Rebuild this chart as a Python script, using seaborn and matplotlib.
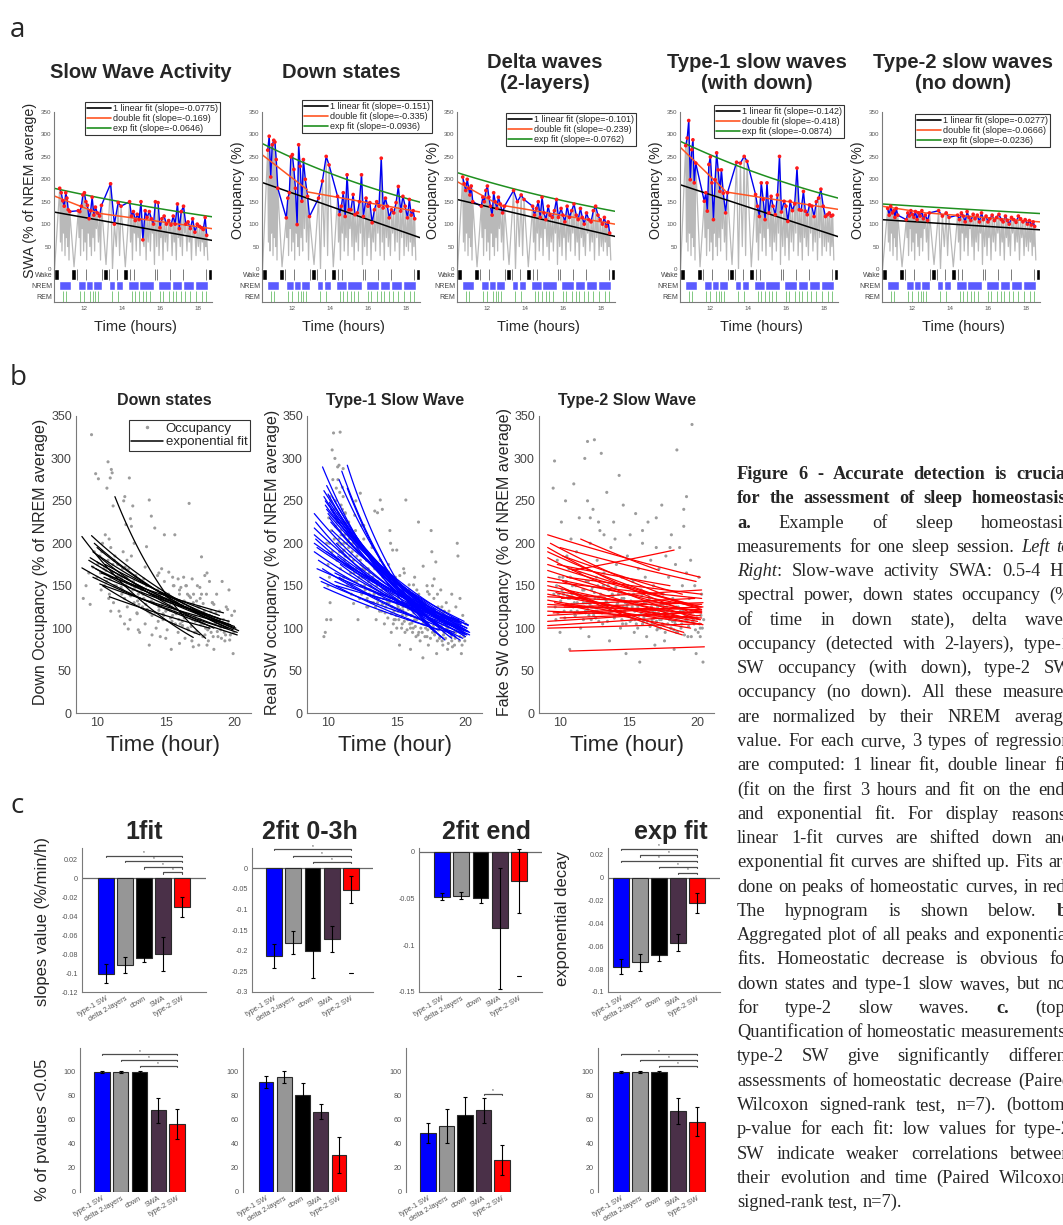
import re
import numpy as np
import pandas as pd
import matplotlib
matplotlib.use("Agg")
import matplotlib.pyplot as plt
from matplotlib.lines import Line2D
import seaborn as sns

sns.set_theme(style="white")
plt.rcParams["font.family"] = ["Liberation Sans", "DejaVu Sans"]
plt.rcParams["axes.unicode_minus"] = False

# ---------------- panel a: one recording session ----------------
session_hours = [10.42, 18.74]
peak_t = [10.72, 10.80, 10.88, 10.96, 11.04, 11.10, 11.17, 11.25,
          11.70, 11.78, 11.86, 11.94, 12.02, 12.10, 12.18, 12.27, 12.35, 12.43, 12.52, 12.60, 12.70, 12.82, 12.92,
          13.40, 13.60, 13.80, 13.95,
          14.40, 14.50, 14.60, 14.70, 14.80, 14.90, 15.00, 15.10, 15.22, 15.32, 15.44, 15.55, 15.66,
          15.76, 15.90, 16.00, 16.10, 16.22, 16.34, 16.46, 16.58, 16.70, 16.80, 16.92, 17.02, 17.12, 17.24,
          17.36, 17.48, 17.60, 17.72, 17.84, 17.96, 18.08, 18.18, 18.28, 18.38, 18.46]
swa_peaks = [180, 170, 152, 140, 170, 158, 132, 128,
             130, 128, 140, 165, 170, 150, 142, 112, 130, 160, 120, 138, 125, 118, 142,
             190, 100, 148, 140,
             150, 118, 128, 108, 122, 110, 150, 65, 130, 115, 128, 112, 100,
             150, 148, 92, 112, 118, 100, 108, 98, 118, 100, 145, 90, 128, 140, 100, 105, 90, 112, 82, 100,
             95, 92, 88, 115, 75]
down_peaks = [265, 296, 205, 277, 287, 283, 244, 180,
              114, 158, 170, 250, 255, 222, 180, 99, 277, 229, 151, 244, 200, 162, 117,
              158, 196, 251, 232,
              162, 121, 140, 170, 117, 210, 132, 132, 166, 121, 125, 150, 210,
              117, 158, 140, 148, 103, 132, 150, 140, 247, 136, 158, 140, 114, 132, 125, 148, 184, 129, 162,
              140, 114, 155, 120, 130, 112]
delta_peaks = [205, 190, 175, 200, 180, 165, 185, 150,
               140, 160, 150, 175, 185, 160, 140, 120, 170, 150, 135, 160, 145, 125, 140,
               175, 150, 165, 155,
               140, 120, 135, 150, 115, 160, 125, 110, 140, 120, 115, 130, 155,
               115, 135, 120, 105, 140, 115, 130, 145, 120, 110, 135, 115, 100, 125, 110, 105, 130, 140, 120,
               110, 100, 115, 95, 105, 80]
type1_peaks = [275, 292, 331, 199, 266, 288, 192, 236,
               151, 170, 129, 233, 250, 192, 110, 199, 259, 221, 173, 221, 169, 125, 170,
               238, 236, 251, 240,
               166, 140, 117, 192, 155, 110, 192, 125, 162, 140, 121, 165, 251,
               127, 151, 140, 106, 151, 130, 145, 225, 132, 131, 173, 129, 121, 143, 140, 117, 150, 158, 178,
               140, 117, 121, 125, 118, 120]
type2_peaks = [135, 120, 140, 125, 130, 115, 135, 120,
               110, 125, 118, 130, 122, 115, 128, 110, 125, 118, 130, 112, 120, 108, 125,
               130, 118, 125, 115,
               120, 110, 125, 118, 105, 128, 115, 108, 122, 112, 120, 105, 125,
               110, 118, 105, 112, 120, 108, 115, 122, 110, 105, 118, 108, 100, 115, 110, 104, 118, 112, 105,
               110, 100, 108, 98, 105, 95]
trough_v = [60, 40, 80, 30, 70, 50, 20, 5,
            70, 30, 90, 40, 60, 20, 80, 50, 30, 70, 40, 90, 60, 20, 10,
            0, 50, 30, 5,
            60, 20, 80, 40, 70, 30, 90, 50, 20, 60, 40, 80, 10,
            50, 30, 70, 20, 60, 40, 80, 30, 60, 20, 70, 50, 30, 80, 40, 60, 20, 70, 30, 50, 40, 60, 30, 50, 20]

# hypnogram of the session (start hour, duration in hours)
wake_blocks = [(10.42, 0.26), (11.30, 0.30), (13.00, 0.27), (14.03, 0.30), (18.53, 0.21)]
wake_marks = [11.62, 12.10, 12.95, 13.30, 13.75, 14.42, 14.62, 15.72, 15.84, 16.55, 17.20, 18.45]
nrem_blocks = [(10.68, 0.62), (11.67, 0.42), (12.11, 0.36), (12.49, 0.47), (13.32, 0.33), (13.67, 0.36),
               (14.33, 0.55), (14.90, 0.78), (15.90, 0.70), (16.62, 0.56), (17.20, 0.60), (17.82, 0.71)]
rem_times = [10.90, 11.05, 11.80, 12.00, 12.30, 12.45, 12.60, 12.75, 13.50, 13.80, 14.55, 14.70, 14.90,
             15.10, 15.25, 15.45, 16.00, 16.15, 16.50, 16.70, 16.85, 17.10, 17.30, 17.60, 17.90, 18.20, 18.45]

a_titles = ["Slow Wave Activity", "Down states", "Delta waves\n(2-layers)",
            "Type-1 slow waves\n(with down)", "Type-2 slow waves\n(no down)"]
a_ylabels = ["SWA (% of NREM average)", "Occupancy (%)", "Occupancy (%)", "Occupancy (%)", "Occupancy (%)"]
lin_slope = [-0.0775, -0.151, -0.101, -0.142, -0.0277]
dbl_slope = [-0.169, -0.335, -0.239, -0.418, -0.0666]
exp_slope = [-0.0646, -0.0936, -0.0762, -0.0874, -0.0236]
lin_start = [127, 193, 155, 188, 110]
dbl_start = [163, 255, 195, 272, 140]
dbl_tail = [(124, 90), (172, 127), (142, 100), (172, 133), (125, 105)]
exp_start = [180, 280, 215, 285, 145]
SLOPE_PER_H = 98.0      # quoted linear slope units -> % per hour
EXP_PER_H = 0.81        # quoted exponential rate units -> per hour
FIRST_PART_H = 2.38     # span of the first segment of the double fit

# ---------------- panel b: peaks pooled over sessions ----------------
down_pool = [(9.0, 135), (9.2, 150), (9.4, 165), (9.5, 128), (9.6, 328), (9.7, 172), (9.8, 190), (9.9, 282),
             (10.0, 160), (10.1, 276), (10.2, 185), (10.3, 145), (10.4, 200), (10.5, 170), (10.6, 210),
             (10.7, 155), (10.8, 180), (10.9, 140), (11.0, 195), (11.1, 165), (11.2, 130), (11.3, 185),
             (11.4, 150), (11.5, 175), (11.6, 120), (11.7, 160), (11.8, 140), (11.9, 190), (12.0, 135),
             (12.1, 150), (12.2, 125), (12.3, 170), (12.4, 110), (12.5, 220), (12.6, 145), (12.7, 130),
             (12.8, 160), (12.9, 118), (13.0, 140), (13.1, 95), (13.2, 155), (13.3, 125), (13.4, 135),
             (13.5, 105), (13.6, 150), (13.7, 120), (13.8, 80), (13.9, 140), (14.0, 115), (14.1, 130),
             (14.2, 218), (14.3, 100), (14.4, 145), (14.5, 125), (14.6, 90), (14.7, 135), (14.8, 110),
             (14.9, 155), (15.0, 120), (15.1, 98), (15.2, 140), (15.3, 128), (15.4, 75), (15.5, 115),
             (15.6, 150), (15.7, 105), (15.8, 130), (15.9, 95), (16.0, 145), (16.1, 118), (16.2, 108),
             (16.3, 160), (16.4, 88), (16.5, 125), (16.6, 100), (16.7, 138), (16.8, 112), (16.9, 85),
             (17.0, 130), (17.1, 95), (17.2, 120), (17.3, 150), (17.4, 80), (17.5, 110), (17.6, 140),
             (17.7, 90), (17.8, 120), (17.9, 100), (18.0, 165), (18.1, 85), (18.2, 115), (18.3, 95),
             (18.4, 130), (18.5, 75), (18.6, 105), (18.7, 140), (18.8, 90), (18.9, 120), (19.0, 98),
             (19.1, 155), (19.2, 110), (19.3, 85), (19.4, 125), (19.5, 100), (19.6, 145), (19.7, 92),
             (19.8, 115), (19.9, 70), (20.0, 120), (10.25, 165), (10.55, 150), (10.85, 135), (11.15, 175),
             (11.45, 160), (11.75, 148), (12.05, 172), (12.35, 140), (12.65, 155), (12.95, 132), (13.25, 145),
             (13.55, 128), (13.85, 118), (14.15, 138), (14.45, 108), (14.75, 128), (15.05, 135), (15.35, 112),
             (15.65, 122), (15.95, 110), (16.25, 128), (16.55, 115), (16.85, 102), (17.15, 108), (17.45, 125),
             (17.75, 105), (18.05, 98), (18.35, 112), (18.65, 118), (18.95, 102), (19.25, 95), (19.55, 108),
             (19.85, 100), (10.05, 175), (10.35, 190), (10.65, 168), (10.95, 158), (11.25, 150), (11.55, 162),
             (11.85, 145), (12.15, 160), (12.45, 138), (12.75, 148), (13.05, 128), (13.35, 140), (13.65, 122),
             (13.95, 132), (14.25, 118), (14.55, 125), (14.85, 115), (15.15, 122), (15.45, 108), (15.75, 118),
             (16.05, 105), (16.35, 112), (16.65, 98), (16.95, 110), (17.25, 96), (17.55, 104), (17.85, 92),
             (18.15, 100), (18.45, 90), (18.75, 96), (19.05, 88), (19.35, 92), (19.65, 86), (19.95, 95),
             (11.0, 120), (12.0, 105), (13.0, 98), (14.0, 92), (15.0, 88), (16.0, 82), (17.0, 78), (18.0, 80),
             (12.5, 185), (13.5, 172), (14.5, 165), (15.5, 160), (16.5, 150), (17.5, 135), (18.5, 128),
             (19.5, 122)]
type1_pool = [(9.7, 90), (9.9, 110), (10.0, 150), (10.1, 200), (10.2, 250), (10.3, 310), (10.35, 275),
              (10.4, 330), (10.45, 240), (10.5, 300), (10.55, 220), (10.6, 265), (10.65, 180), (10.7, 290),
              (10.75, 235), (10.8, 205), (10.85, 260), (10.9, 170), (10.95, 245), (11.0, 225), (11.05, 190),
              (11.1, 255), (11.15, 160), (11.2, 210), (11.25, 235), (11.3, 175), (11.35, 200), (11.4, 150),
              (11.5, 225), (11.6, 185), (11.7, 140), (11.8, 200), (11.9, 165), (12.0, 215), (12.1, 155),
              (12.2, 190), (12.3, 135), (12.4, 175), (12.5, 160), (12.6, 205), (12.7, 145), (12.8, 180),
              (12.9, 125), (13.0, 165), (13.1, 150), (13.2, 195), (13.3, 130), (13.4, 170), (13.5, 110),
              (13.6, 155), (13.7, 140), (13.8, 180), (13.9, 120), (14.0, 160), (14.1, 105), (14.2, 145),
              (14.3, 130), (14.4, 175), (14.5, 215), (14.55, 200), (14.6, 95), (14.7, 140), (14.8, 120),
              (14.9, 160), (15.0, 100), (15.1, 135), (15.2, 80), (15.3, 150), (15.4, 115), (15.5, 170),
              (15.6, 95), (15.7, 130), (15.8, 110), (15.9, 145), (16.0, 75), (16.1, 125), (16.2, 100),
              (16.3, 160), (16.4, 90), (16.5, 120), (16.6, 140), (16.7, 85), (16.8, 115), (16.9, 65),
              (17.0, 130), (17.1, 100), (17.2, 150), (17.3, 80), (17.4, 120), (17.5, 215), (17.55, 190),
              (17.6, 95), (17.7, 135), (17.8, 110), (17.9, 70), (18.0, 125), (18.1, 100), (18.2, 145),
              (18.3, 85), (18.4, 115), (18.5, 105), (18.6, 130), (18.7, 75), (18.8, 120), (18.9, 95),
              (19.0, 140), (19.1, 110), (19.2, 80), (19.3, 125), (19.4, 200), (19.45, 185), (19.5, 100),
              (19.6, 135), (19.7, 70), (19.8, 115), (19.9, 90), (20.0, 105), (10.3, 190), (10.6, 230),
              (10.9, 215), (11.2, 180), (11.5, 195), (11.8, 170), (12.1, 185), (12.4, 150), (12.7, 170),
              (13.0, 140), (13.3, 155), (13.6, 130), (13.9, 145), (14.2, 125), (14.5, 135), (14.8, 110),
              (15.1, 120), (15.4, 105), (15.7, 115), (16.0, 100), (16.3, 110), (16.6, 95), (16.9, 105),
              (17.2, 90), (17.5, 100), (17.8, 95), (18.1, 88), (18.4, 92), (18.7, 100), (19.0, 85),
              (19.3, 95), (19.6, 90), (19.9, 98), (9.9, 200), (10.0, 175), (10.1, 160), (10.15, 130),
              (10.2, 110), (9.8, 95),
              (10.05, 230), (10.15, 255), (10.25, 215), (10.45, 205), (10.55, 250), (10.65, 225), (10.75, 200),
              (10.85, 190), (10.95, 210), (11.05, 240), (11.15, 200), (11.25, 185), (11.35, 225), (11.45, 175),
              (11.55, 205), (11.65, 165), (11.75, 190), (11.85, 180), (11.95, 155), (12.05, 170), (12.15, 195),
              (12.25, 160), (12.35, 180), (12.45, 140), (12.55, 170), (12.65, 150), (12.75, 160), (12.85, 135),
              (12.95, 155), (13.05, 145), (13.15, 130), (13.25, 160), (13.35, 140), (13.45, 125), (13.55, 150),
              (13.65, 135), (13.75, 120), (13.85, 140), (13.95, 128), (14.05, 135), (14.15, 118), (14.25, 140),
              (14.35, 112), (14.45, 130), (14.65, 125), (14.75, 105), (14.85, 135), (14.95, 115), (15.05, 128),
              (15.15, 110), (15.25, 122), (15.35, 100), (15.45, 125), (15.55, 108), (15.65, 118), (15.75, 98),
              (15.85, 122), (15.95, 105), (16.05, 115), (16.15, 95), (16.25, 118), (16.35, 102), (16.45, 110),
              (16.55, 92), (16.65, 112), (16.75, 100), (16.85, 95), (16.95, 108), (17.05, 90), (17.15, 105),
              (17.25, 98), (17.35, 110), (17.45, 88), (17.65, 102), (17.75, 92), (17.85, 105), (17.95, 85),
              (18.05, 98), (18.15, 90), (18.25, 102), (18.35, 80), (18.45, 95), (18.55, 88), (18.65, 100),
              (18.75, 82), (18.85, 96), (18.95, 90), (19.05, 78), (19.15, 95), (19.25, 88), (19.35, 100),
              (19.55, 85), (19.65, 95), (19.75, 80), (19.85, 92), (19.95, 85)]
type2_pool = [(9.5, 265), (9.6, 297), (9.7, 110), (9.8, 180), (9.9, 140), (10.0, 95), (10.1, 225),
              (10.2, 160), (10.3, 120), (10.4, 250), (10.5, 185), (10.6, 135), (10.7, 75), (10.8, 205),
              (10.9, 150), (11.0, 270), (11.1, 115), (11.2, 190), (11.3, 140), (11.4, 230), (11.5, 100),
              (11.6, 170), (11.7, 130), (11.8, 300), (11.9, 155), (12.0, 320), (12.1, 90), (12.2, 200),
              (12.3, 145), (12.4, 240), (12.5, 322), (12.6, 120), (12.7, 180), (12.8, 135), (12.9, 215),
              (13.0, 306), (13.1, 105), (13.2, 165), (13.3, 125), (13.4, 260), (13.5, 150), (13.6, 85),
              (13.7, 195), (13.8, 140), (13.9, 225), (14.0, 115), (14.1, 175), (14.2, 130), (14.3, 280),
              (14.4, 100), (14.5, 160), (14.6, 245), (14.7, 120), (14.8, 70), (14.9, 185), (15.0, 140),
              (15.1, 210), (15.2, 110), (15.3, 155), (15.4, 95), (15.5, 235), (15.6, 130), (15.7, 170),
              (15.8, 60), (15.9, 145), (16.0, 200), (16.1, 115), (16.2, 160), (16.3, 90), (16.4, 225),
              (16.5, 135), (16.6, 180), (16.7, 105), (16.8, 150), (16.9, 80), (17.0, 195), (17.1, 125),
              (17.2, 170), (17.3, 100), (17.4, 245), (17.5, 140), (17.6, 85), (17.7, 185), (17.8, 120),
              (17.9, 160), (18.0, 110), (18.1, 210), (18.2, 135), (18.3, 75), (18.4, 175), (18.5, 310),
              (18.6, 125), (18.7, 195), (18.8, 100), (18.9, 150), (19.0, 220), (19.1, 115), (19.2, 165),
              (19.3, 90), (19.4, 135), (19.5, 180), (19.6, 340), (19.7, 110), (19.8, 150), (19.9, 70),
              (20.0, 125), (20.1, 160), (20.2, 100), (20.3, 140), (20.4, 60), (10.25, 140), (10.75, 160),
              (11.25, 130), (11.75, 145), (12.25, 125), (12.75, 150), (13.25, 135), (13.75, 120),
              (14.25, 140), (14.75, 130), (15.25, 125), (15.75, 115), (16.25, 130), (16.75, 120),
              (17.25, 110), (17.75, 125), (18.25, 115), (18.75, 120), (19.25, 110), (19.75, 105),
              (20.25, 115), (10.5, 128), (11.5, 138), (12.5, 142), (13.5, 128), (14.5, 135), (15.5, 122),
              (16.5, 118), (17.5, 128), (18.5, 112), (19.5, 118),
              (9.55, 140), (9.65, 125), (9.75, 150), (9.85, 118), (9.95, 160), (10.05, 132), (10.15, 145),
              (10.35, 112), (10.45, 155), (10.55, 138), (10.65, 170), (10.85, 128), (10.95, 142), (11.05, 118),
              (11.15, 150), (11.35, 135), (11.45, 165), (11.55, 125), (11.65, 145), (11.85, 120), (11.95, 138),
              (12.05, 155), (12.15, 130), (12.35, 148), (12.45, 115), (12.55, 135), (12.65, 160), (12.85, 125),
              (12.95, 140), (13.05, 118), (13.15, 150), (13.35, 132), (13.45, 108), (13.55, 145), (13.65, 122),
              (13.85, 138), (13.95, 112), (14.05, 148), (14.15, 128), (14.35, 118), (14.45, 142), (14.55, 105),
              (14.65, 135), (14.85, 125), (14.95, 150), (15.05, 115), (15.15, 132), (15.35, 140), (15.45, 110),
              (15.55, 128), (15.65, 100), (15.85, 122), (15.95, 138), (16.05, 108), (16.15, 130), (16.35, 115),
              (16.45, 140), (16.55, 102), (16.65, 125), (16.85, 112), (16.95, 132), (17.05, 98), (17.15, 118),
              (17.35, 128), (17.45, 105), (17.55, 120), (17.65, 95), (17.85, 115), (17.95, 130), (18.05, 100),
              (18.15, 118), (18.35, 108), (18.45, 125), (18.55, 95), (18.65, 112), (18.85, 105), (18.95, 120),
              (19.05, 92), (19.15, 110), (19.35, 102), (19.45, 118), (19.55, 90), (19.65, 108), (19.85, 98),
              (19.95, 112), (20.05, 95), (20.15, 105), (20.35, 100), (20.45, 110), (12.0, 250), (12.2, 230),
              (12.8, 225), (13.2, 210), (14.0, 205), (16.0, 215), (17.0, 230), (18.0, 195), (19.0, 240),
              (19.2, 255), (20.2, 90)]

# exponential fits per session: (start hour, start value, end hour, end value)
down_fits = [(8.9, 208, 17.0, 89), (8.9, 171, 20.2, 92), (9.6, 209, 20.3, 97), (9.5, 183, 19.7, 104),
             (9.6, 173, 20.2, 95), (9.8, 200, 19.5, 100), (10.0, 195, 19.9, 98), (10.2, 152, 19.7, 104),
             (10.9, 137, 18.2, 100), (11.3, 255, 17.9, 88), (9.7, 190, 19.0, 110), (10.0, 178, 20.0, 102),
             (10.3, 165, 19.2, 118), (9.9, 170, 18.8, 112), (10.5, 160, 19.6, 108), (10.1, 185, 18.5, 100),
             (9.7, 160, 19.3, 100), (10.4, 150, 17.5, 92), (9.4, 180, 20.1, 100), (10.6, 175, 18.9, 115)]
type1_fits = [(9.0, 235, 20.3, 92), (9.0, 218, 20.2, 96), (9.0, 210, 20.1, 100), (9.0, 200, 20.2, 104),
              (9.0, 190, 20.0, 98), (9.1, 225, 19.8, 88), (9.1, 205, 19.9, 93), (9.2, 195, 19.6, 107),
              (9.2, 170, 19.5, 110), (9.3, 180, 20.3, 95), (9.6, 290, 18.4, 88), (9.7, 262, 19.9, 95),
              (9.7, 255, 20.0, 90), (9.8, 250, 19.8, 100), (9.8, 245, 20.1, 97), (9.9, 268, 19.6, 86),
              (9.9, 240, 20.2, 103), (10.0, 258, 19.0, 92), (10.0, 235, 19.7, 105), (10.1, 248, 20.0, 93),
              (10.1, 230, 19.5, 98), (10.2, 240, 18.8, 95), (10.2, 225, 20.1, 100), (10.3, 255, 19.3, 90),
              (10.3, 215, 19.9, 108), (11.4, 292, 18.2, 90), (11.4, 265, 17.8, 95), (11.0, 285, 18.5, 86),
              (10.8, 275, 19.0, 88), (10.6, 200, 19.7, 100), (10.7, 185, 20.0, 97), (10.5, 165, 19.6, 106),
              (10.5, 155, 18.9, 110), (10.8, 160, 19.2, 95), (10.6, 150, 17.6, 120), (10.9, 175, 20.1, 92),
              (11.0, 210, 19.8, 98), (11.1, 225, 20.2, 96), (10.6, 240, 19.0, 92), (10.7, 230, 19.4, 100),
              (9.5, 155, 16.5, 112), (9.6, 170, 17.0, 108), (9.7, 148, 18.8, 95), (9.4, 160, 18.0, 98),
              (9.9, 190, 17.8, 122)]
type2_fits = [(9.1, 210, 20.2, 160), (9.1, 195, 19.3, 120), (9.1, 190, 20.3, 122), (9.1, 183, 20.2, 110),
              (9.1, 175, 19.5, 128), (9.1, 168, 20.3, 118), (9.1, 160, 20.2, 125), (9.1, 155, 20.3, 135),
              (9.1, 150, 19.8, 115), (9.1, 145, 20.3, 120), (9.1, 140, 20.2, 110), (9.1, 137, 20.3, 128),
              (9.1, 133, 20.1, 105), (9.1, 128, 20.3, 118), (9.1, 125, 20.2, 122), (9.1, 120, 20.3, 112),
              (9.1, 115, 20.0, 125), (9.1, 108, 20.3, 120), (9.1, 103, 20.2, 115), (9.1, 100, 20.3, 105),
              (10.7, 73, 20.5, 78), (10.9, 168, 18.3, 192), (11.5, 205, 17.2, 168), (10.0, 195, 19.9, 155),
              (10.2, 185, 18.9, 140), (9.8, 175, 18.0, 150), (10.5, 160, 20.3, 140), (9.9, 150, 19.0, 95),
              (10.4, 145, 18.9, 92), (10.1, 135, 20.3, 145), (9.6, 130, 19.5, 100), (10.3, 125, 20.4, 130),
              (9.5, 118, 20.4, 125), (10.0, 112, 19.7, 118), (10.6, 138, 20.0, 108), (9.3, 200, 17.5, 140),
              (10.8, 170, 20.3, 125), (10.2, 155, 19.2, 112), (9.7, 142, 20.4, 104), (10.4, 128, 19.8, 135)]

# ---------------- panel c: group statistics (n=7) ----------------
bar_labels = ["type-1 SW", "delta 2-layers", "down", "SWA", "type-2 SW"]
bar_colors = ["#0000ff", "#969696", "#000000", "#4a3048", "#ff0000"]
slope_1fit = [-0.101, -0.092, -0.084, -0.080, -0.031]
err_1fit = [0.010, 0.0085, 0.004, 0.0175, 0.0105]
slope_2fit_first = [-0.213, -0.181, -0.201, -0.172, -0.052]
err_2fit_first = [0.030, 0.028, 0.066, 0.031, 0.032]
slope_2fit_end = [-0.048, -0.047, -0.050, -0.082, -0.031]
err_2fit_end = [0.0035, 0.0037, 0.0045, 0.065, 0.034]
decay_exp = [-0.078, -0.074, -0.0675, -0.057, -0.022]
err_exp = [0.0065, 0.0072, 0.0055, 0.0075, 0.009]
pct_1fit = [100, 100, 100, 68, 57]
pct_err_1fit = [0.6, 0.6, 0.6, 10.5, 12.5]
pct_2fit_first = [91.5, 95.5, 81, 67, 31]
pct_err_2fit_first = [5, 5, 10, 6, 15]
pct_2fit_end = [49, 55, 64.5, 68, 26.5]
pct_err_2fit_end = [8.5, 14, 14.5, 10.5, 12.5]
pct_exp = [100, 100, 100, 67.5, 58.5]
pct_err_exp = [0.6, 0.6, 0.6, 10.5, 12]
outlier_2fit_first = [(4, -0.255)]
outlier_2fit_end = [(4, -0.133)]
sig_1fit = [(0, 4, 0.0235), (1, 4, 0.0179), (2, 4, 0.0113), (3, 4, 0.006)]
sig_2fit_first = [(0, 4, 0.046), (1, 4, 0.029), (2, 4, 0.0146)]
sig_exp = [(0, 4, 0.0255), (1, 4, 0.0195), (0, 4, 0.015), (2, 4, 0.0095), (3, 4, 0.0045)]
sig_pct_1fit = [(0, 4, 115), (1, 4, 110), (2, 4, 105)]
sig_pct_2fit_end = [(3, 4, 82)]
sig_pct_exp = [(0, 4, 115), (1, 4, 110), (2, 4, 105)]

caption = [
    ("Figure 6 - Accurate detection is crucial", True),
    ("for the assessment of sleep homeostasis.", True),
    ("**a.** Example of sleep homeostasis", False),
    ("measurements for one sleep session. *Left* *to*", False),
    ("*Right*: Slow-wave activity SWA: 0.5-4 Hz", False),
    ("spectral power, down states occupancy (%", False),
    ("of time in down state), delta waves", False),
    ("occupancy (detected with 2-layers), type-1", False),
    ("SW occupancy (with down), type-2 SW", False),
    ("occupancy (no down). All these measures", False),
    ("are normalized by their NREM average", False),
    ("value. For each curve, 3 types of regression", False),
    ("are computed: 1 linear fit, double linear fit", False),
    ("(fit on the first 3 hours and fit on the end)", False),
    ("and exponential fit. For display reasons,", False),
    ("linear 1-fit curves are shifted down and", False),
    ("exponential fit curves are shifted up. Fits are", False),
    ("done on peaks of homeostatic curves, in red.", False),
    ("The hypnogram is shown below. **b.**", False),
    ("Aggregated plot of all peaks and exponential", False),
    ("fits. Homeostatic decrease is obvious for", False),
    ("down states and type-1 slow waves, but not", False),
    ("for type-2 slow waves. **c.** (top)", False),
    ("Quantification of homeostatic measurements:", False),
    ("type-2 SW give significantly different", False),
    ("assessments of homeostatic decrease (Paired", False),
    ("Wilcoxon signed-rank test, n=7). (bottom)", False),
    ("p-value for each fit: low values for type-2", False),
    ("SW indicate weaker correlations between", False),
    ("their evolution and time (Paired Wilcoxon", False),
    ("signed-rank test, n=7).", False),
]

# ---------------- figure ----------------
W, H = 1063, 1225
fig = plt.figure(figsize=(W / 100, H / 100), dpi=100)
fig.patch.set_facecolor("white")


def box(l, t, r, b):
    return [l / W, 1 - b / H, (r - l) / W, (b - t) / H]


def ftext(x, y, s, **kw):
    return fig.text(x / W, 1 - y / H, s, **kw)


def style_spines(ax, left=True, bottom=True, color="#7a7a7a", lw=0.8):
    for side in ("top", "right"):
        ax.spines[side].set_visible(False)
    ax.spines["left"].set_visible(left)
    ax.spines["bottom"].set_visible(bottom)
    for side in ("left", "bottom"):
        ax.spines[side].set_color(color)
        ax.spines[side].set_linewidth(lw)


for letter, y in (("a", 30), ("b", 378), ("c", 806)):
    ftext(10, y, letter, fontsize=20, family=["Open Sans", "DejaVu Sans"], va="center", ha="left")

# ---- panel a ----
a_left = [54, 262, 457, 680, 882]
a_width = 158
a_title_x = [141, 341, 545, 757, 963]
a_legend_corner = [(220, 102), (432, 100), (636, 113), (844, 105), (1050, 114)]
peak_sets = [swa_peaks, down_peaks, delta_peaks, type1_peaks, type2_peaks]
ORANGE, GREEN = "#ff5522", "#1f8f1f"
t0, t1 = session_hours

for k in range(5):
    l = a_left[k]
    r = l + a_width
    ax = fig.add_axes(box(l, 112, r, 269))
    hx = fig.add_axes(box(l, 269, r, 302))
    pk = peak_sets[k]

    gt, gv = [t0 + 0.03], [0]
    for i, t in enumerate(peak_t):
        nxt = peak_t[i + 1] if i + 1 < len(peak_t) else t + 0.12
        gt += [t, (t + nxt) / 2]
        gv += [pk[i], trough_v[i]]
    sns.lineplot(x=gt, y=gv, sort=False, estimator=None, color="#b9b9b9", lw=0.9, ax=ax)
    sns.lineplot(x=peak_t, y=pk, sort=False, estimator=None, color="#0000f0", lw=1.0, ax=ax)
    sns.scatterplot(x=peak_t, y=pk, color="#ff1a1a", s=7, edgecolor="none", ax=ax, zorder=5)

    lin_end = lin_start[k] + lin_slope[k] * SLOPE_PER_H * (t1 - t0)
    ax.plot([t0, t1], [lin_start[k], lin_end], color="black", lw=1.1)
    tb = t0 + FIRST_PART_H
    ax.plot([t0, tb], [dbl_start[k], dbl_start[k] + dbl_slope[k] * SLOPE_PER_H * FIRST_PART_H],
            color=ORANGE, lw=1.1)
    ax.plot([tb, t1], list(dbl_tail[k]), color=ORANGE, lw=1.1)
    tt = np.linspace(t0, t1, 80)
    ax.plot(tt, exp_start[k] * np.exp(exp_slope[k] * EXP_PER_H * (tt - t0)), color=GREEN, lw=1.1)

    ax.set_xlim(t0, t1)
    ax.set_ylim(0, 350)
    ax.set_yticks(range(0, 351, 50))
    ax.set_xticks([])
    ax.set_xlabel("")
    ax.set_ylabel("")
    ax.tick_params(axis="y", labelsize=4.5, colors="#555555", direction="in", length=2, pad=2)
    style_spines(ax, left=True, bottom=False)

    handles = [Line2D([], [], color="black", lw=1.2), Line2D([], [], color=ORANGE, lw=1.2),
               Line2D([], [], color=GREEN, lw=1.2)]
    labels = [f"1 linear fit (slope={lin_slope[k]:g})", f"double fit (slope={dbl_slope[k]:g})",
              f"exp fit (slope={exp_slope[k]:g})"]
    cx, cy = a_legend_corner[k]
    leg = ax.legend(handles, labels, loc="upper right", bbox_to_anchor=(cx / W, 1 - cy / H),
                    bbox_transform=fig.transFigure, fontsize=6.5, frameon=True, fancybox=False,
                    borderpad=0.25, labelspacing=0.1, handlelength=2.6, handletextpad=0.2,
                    borderaxespad=0)
    leg.get_frame().set_edgecolor("black")
    leg.get_frame().set_linewidth(0.8)
    leg.set_zorder(10)

    # hypnogram
    hx.broken_barh(wake_blocks, (2, 1), facecolors="black")
    hx.vlines(wake_marks, 2, 3, color="#666666", lw=0.6)
    hx.broken_barh(nrem_blocks, (1.05, 0.9), facecolors="#5b5bff")
    hx.vlines(rem_times, 0, 1, color="#6cbf6c", lw=0.6)
    hx.set_xlim(t0, t1)
    hx.set_ylim(0, 3)
    hx.set_yticks([2.5, 1.5, 0.5])
    hx.set_yticklabels(["Wake", "NREM", "REM"])
    hx.set_xticks([12, 14, 16, 18])
    hx.tick_params(axis="y", labelsize=5, colors="#444444", length=0, pad=1)
    hx.tick_params(axis="x", labelsize=4.5, colors="#555555", direction="in", length=2, pad=3)
    style_spines(hx, left=True, bottom=True)

    ftext(l + a_width / 2 + 2, 327, "Time (hours)", fontsize=10.5, ha="center", va="center")
    ftext(l - 24, 190, a_ylabels[k], fontsize=10.3, rotation=90, ha="center", va="center")
    ftext(a_title_x[k], 73, a_titles[k], fontsize=14.5, weight="bold", ha="center", va="center",
          linespacing=1.1)

# ---- panel b ----
b_left = [76, 307, 539]
b_width = 175
b_titles = ["Down states", "Type-1 Slow Wave", "Type-2 Slow Wave"]
b_ylabels = ["Down Occupancy (% of NREM average)", "Real SW occupancy (% of NREM average)",
             "Fake SW occupancy (% of NREM average)"]
b_points = [down_pool + list(zip(peak_t, down_peaks)),
            type1_pool + list(zip(peak_t, type1_peaks)),
            type2_pool + list(zip(peak_t, type2_peaks))]
b_fits = [down_fits, type1_fits, type2_fits]
b_colors = ["black", "#0000ff", "#ff0000"]

for k in range(3):
    l = b_left[k]
    ax = fig.add_axes(box(l, 416, l + b_width, 713))
    pts = pd.DataFrame(b_points[k], columns=["hour", "occupancy"])
    sns.scatterplot(data=pts, x="hour", y="occupancy", s=5, color="#9c9c9c", edgecolor="none", ax=ax)
    for (s0, v0, s1, v1) in b_fits[k]:
        tt = np.linspace(s0, s1, 40)
        ax.plot(tt, v0 * (v1 / v0) ** ((tt - s0) / (s1 - s0)), color=b_colors[k], lw=0.9)
    ax.set_xlim(8.47, 21.2)
    ax.set_ylim(0, 350)
    ax.set_xticks([10, 15, 20])
    ax.set_yticks(range(0, 351, 50))
    ax.set_xlabel("")
    ax.set_ylabel("")
    ax.tick_params(labelsize=9, colors="#444444", direction="in", length=3, pad=3)
    style_spines(ax)
    ftext(l + 88, 401, b_titles[k], fontsize=11.5, weight="bold", ha="center", va="center")
    ftext(l - 35, 562, b_ylabels[k], fontsize=11.5, rotation=90, ha="center", va="center")
    ftext(l + b_width / 2, 746, "Time (hour)", fontsize=16, ha="center", va="center")
    if k == 0:
        handles = [Line2D([], [], marker=".", ls="none", color="#9c9c9c", markersize=3),
                   Line2D([], [], color="black", lw=1.1)]
        leg = ax.legend(handles, ["Occupancy", "exponential fit"], loc="upper right",
                        bbox_to_anchor=(250 / W, 1 - 420 / H), bbox_transform=fig.transFigure,
                        fontsize=9.5, frameon=True, fancybox=False, borderpad=0.2, labelspacing=0.1,
                        handlelength=2.4, handletextpad=0.2, borderaxespad=0)
        leg.get_frame().set_edgecolor("black")
        leg.get_frame().set_linewidth(0.8)


# ---- panel c ----
def tick_fmt(v):
    return "0" if abs(v) < 1e-9 else f"{v:g}"


def bar_panel(geom, top, bottom, vals, errs, ylim, yticks, sigs, outliers, zero_line):
    l, r, b1, b5 = geom
    sp = (b5 - b1) / 4
    ax = fig.add_axes(box(l, top, r, bottom))
    sns.barplot(x=bar_labels, y=vals, hue=bar_labels, order=bar_labels, hue_order=bar_labels,
                palette=bar_colors, saturation=1, width=0.82, errorbar=None, legend=False,
                edgecolor="#2a2a2a", linewidth=0.8, ax=ax)
    ax.errorbar(range(5), vals, yerr=errs, fmt="none", ecolor="black", elinewidth=0.8, capsize=1.6,
                capthick=0.8, zorder=4)
    for i, y in outliers:
        ax.plot([i - 0.08, i + 0.08], [y, y], color="black", lw=0.8)
    span = ylim[1] - ylim[0]
    for i0, i1, y in sigs:
        ax.plot([i0, i1], [y, y], color="#4d4d4d", lw=0.9, solid_capstyle="butt")
        ax.plot([i0, i0], [y, y - 0.01 * span], color="#4d4d4d", lw=0.8)
        ax.plot([i1, i1], [y, y - 0.01 * span], color="#4d4d4d", lw=0.8)
        ax.text((i0 + i1) / 2, y + 0.002 * span, "*", fontsize=3.5, ha="center", va="bottom",
                color="#333333")
    if zero_line:
        ax.axhline(0, color="#6a6a6a", lw=0.9, zorder=0.5)
    ax.set_xlim(-(b1 - l) / sp, 4 + (r - b5) / sp)
    ax.set_ylim(*ylim)
    ax.set_yticks(yticks)
    ax.set_yticklabels([tick_fmt(v) for v in yticks])
    ax.set_xticks(range(5))
    ax.set_xticklabels(bar_labels, rotation=30, ha="right", rotation_mode="anchor")
    ax.set_xlabel("")
    ax.set_ylabel("")
    ax.tick_params(axis="y", labelsize=5.2, colors="#555555", direction="in", length=2, pad=3)
    ax.tick_params(axis="x", labelsize=5.2, colors="#555555", direction="in", length=2, pad=2)
    style_spines(ax, left=True, bottom=zero_line)
    return ax


c_top_geom = [(82, 206, 106, 182), (252, 373, 274, 351), (419, 542, 442, 519), (608, 720, 621, 697)]
c_bot_geom = [(80, 201, 102, 177), (243, 363, 266, 339), (406, 526, 428, 502), (598, 721, 621, 697)]
c_titles = ["1fit", "2fit 0-3h", "2fit end", "exp fit"]
c_title_x = [144, 310, 487, 671]

top_specs = [
    (slope_1fit, err_1fit, (-0.12, 0.0316), np.round(np.arange(-0.12, 0.021, 0.02), 2), sig_1fit, []),
    (slope_2fit_first, err_2fit_first, (-0.3, 0.0485), np.round(np.arange(-0.3, 0.001, 0.05), 2),
     sig_2fit_first, outlier_2fit_first),
    (slope_2fit_end, err_2fit_end, (-0.15, 0.004), np.round(np.arange(-0.15, 0.001, 0.05), 2), [],
     outlier_2fit_end),
    (decay_exp, err_exp, (-0.1, 0.026), np.round(np.arange(-0.1, 0.021, 0.02), 2), sig_exp, []),
]
bot_specs = [
    (pct_1fit, pct_err_1fit, sig_pct_1fit),
    (pct_2fit_first, pct_err_2fit_first, []),
    (pct_2fit_end, pct_err_2fit_end, sig_pct_2fit_end),
    (pct_exp, pct_err_exp, sig_pct_exp),
]
for j in range(4):
    vals, errs, ylim, yt, sigs, outs = top_specs[j]
    bar_panel(c_top_geom[j], 848, 992, vals, errs, ylim, list(yt), sigs, outs, True)
    ftext(c_title_x[j], 832, c_titles[j], fontsize=18, weight="bold", ha="center", va="center")
    pv, pe, psig = bot_specs[j]
    bar_panel(c_bot_geom[j], 1048, 1192, pv, pe, (0, 120), list(range(0, 101, 20)), psig, [], False)

ftext(43, 921, "slopes value (%/min/h)", fontsize=12, rotation=90, ha="center", va="center")
ftext(563, 919, "exponential decay", fontsize=12, rotation=90, ha="center", va="center")
ftext(43, 1130, "% of pvalues <0.05", fontsize=12, rotation=90, ha="center", va="center")

# ---- caption column (justified) ----
CAP_X0, CAP_RIGHT, CAP_Y0, CAP_DY, CAP_SIZE = 737, 1071, 479, 24.27, 13.2
renderer = fig.canvas.get_renderer()


def word_runs(word, bold_all):
    runs = []
    for m in re.finditer(r"\*\*(.+?)\*\*|\*(.+?)\*|([^*]+)", word):
        if m.group(1):
            runs.append((m.group(1), "bold", "normal"))
        elif m.group(2):
            runs.append((m.group(2), "normal", "italic"))
        else:
            runs.append((m.group(3), "normal", "normal"))
    if bold_all:
        runs = [(s, "bold", st) for s, _, st in runs]
    return runs


for n, (line, bold_all) in enumerate(caption):
    y = CAP_Y0 + n * CAP_DY
    items = []
    for w in line.split(" "):
        pieces, width = [], 0.0
        for s, wt, st in word_runs(w, bold_all):
            t = fig.text(0, 0, s, fontsize=CAP_SIZE, family=["Liberation Serif", "DejaVu Serif"],
                         weight=wt, style=st, va="baseline", ha="left")
            bw = t.get_window_extent(renderer).width
            pieces.append((t, bw))
            width += bw
        items.append((pieces, width))
    total = sum(w for _, w in items)
    last = n == len(caption) - 1
    gap = 4.3 if last or len(items) < 2 else max(3.0, (CAP_RIGHT - CAP_X0 - total) / (len(items) - 1))
    x = CAP_X0
    for pieces, width in items:
        xx = x
        for t, bw in pieces:
            t.set_position((xx / W, 1 - y / H))
            xx += bw
        x += width + gap

fig.savefig("out.png", dpi=100, facecolor="white")
